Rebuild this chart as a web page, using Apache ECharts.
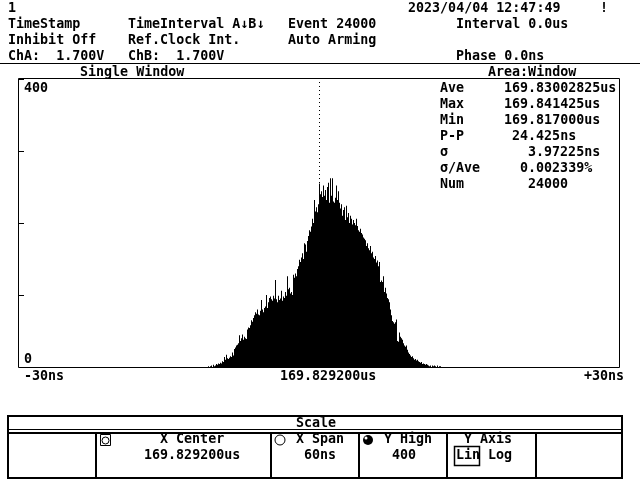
<!DOCTYPE html>
<html>
<head>
<meta charset="utf-8">
<script src="https://cdn.jsdelivr.net/npm/echarts@6/dist/echarts.min.js"></script>
<style>
  html, body { margin: 0; padding: 0; background: #fff; }
  #chart { width: 640px; height: 480px; }
</style>
</head>
<body>
<div id="chart"></div>
<script>
const binCount = 600
const firstBin = 186
const histCounts = [
  0, 0, 0, 1, 0, 1, 2, 0, 3, 1, 2, 4, 3, 5, 4, 6, 5, 8, 7, 14,
  10, 17, 12, 11, 13, 15, 14, 20, 16, 25, 27, 30, 31, 33, 44, 36, 40, 45, 38, 42,
  40, 39, 52, 55, 54, 58, 65, 63, 68, 72, 76, 74, 80, 73, 72, 78, 93, 80, 76, 82,
  84, 100, 82, 90, 96, 98, 94, 92, 99, 95, 121, 94, 90, 99, 93, 95, 106, 92, 98, 96,
  104, 99, 126, 108, 110, 102, 104, 100, 128, 124, 130, 126, 136, 140, 149, 146, 152, 158, 150, 172,
  170, 160, 175, 182, 190, 188, 195, 206, 200, 232, 216, 222, 215, 226, 255, 240, 244, 236, 252, 238,
  246, 232, 250, 256, 228, 262, 238, 262, 230, 228, 235, 252, 232, 244, 228, 220, 226, 210, 218, 222,
  204, 224, 208, 214, 200, 210, 206, 198, 204, 200, 197, 206, 196, 190, 188, 192, 186, 184, 180, 178,
  176, 168, 172, 165, 162, 168, 158, 160, 152, 150, 154, 145, 148, 140, 146, 118, 120, 118, 126, 104,
  110, 102, 96, 94, 90, 80, 72, 64, 62, 60, 62, 66, 36, 35, 48, 42, 40, 38, 33, 30,
  28, 30, 24, 20, 18, 16, 14, 15, 12, 10, 11, 9, 10, 8, 7, 6, 7, 4, 5, 4,
  3, 4, 3, 2, 1, 2, 0, 2, 1, 2, 1, 0, 2, 0, 1, 1
]
const centerBin = 300
const yMax = 400
const yTickLabels = ['400', '0']
const xTickLabels = ['-30ns', '169.829200us', '+30ns']

const headerLines = [
  ['1', '2023/04/04 12:47:49', '!'],
  ['TimeStamp', 'TimeInterval A↓B↓', 'Event 24000', 'Interval 0.0us'],
  ['Inhibit Off', 'Ref.Clock Int.', 'Auto Arming'],
  ['ChA:  1.700V', 'ChB:  1.700V', 'Phase 0.0ns']
]
const statNames = ['Ave', 'Max', 'Min', 'P-P', 'σ', 'σ/Ave', 'Num']
const statValues = ['169.83002825us', '169.841425us', '169.817000us', '24.425ns', '3.97225ns', '0.002339%', '24000']
const scaleLabels = ['X Center', 'X Span', 'Y High', 'Y Axis']
const scaleValues = ['169.829200us', '60ns', '400', 'Lin', 'Log']

const FONT = 'bold 13.33px "DejaVu Sans Mono"'
const CW = 8

// text rows are placed by character column; +2 lines the glyphs up with the screen font
function txt(s, col, y) {
  return { type: 'text', x: col * CW, y: y + 2, style: { text: s, font: FONT, fill: '#000', verticalAlign: 'middle' } }
}
function hline(x1, x2, y, w) {
  return { type: 'line', shape: { x1: x1, y1: y, x2: x2, y2: y }, style: { stroke: '#000', lineWidth: w || 1 } }
}
function vline(x, y1, y2, w) {
  return { type: 'line', shape: { x1: x, y1: y1, x2: x, y2: y2 }, style: { stroke: '#000', lineWidth: w || 1 } }
}

const categories = []
const counts = []
for (let i = 0; i < binCount; i++) {
  categories.push(i)
  const k = i - firstBin
  counts.push(k >= 0 && k < histCounts.length ? histCounts[k] : 0)
}

const g = []
g.push(txt(headerLines[0][0], 1, 7), txt(headerLines[0][1], 51, 7), txt(headerLines[0][2], 75, 7))
g.push(txt(headerLines[1][0], 1, 23), txt(headerLines[1][1], 16, 23), txt(headerLines[1][2], 36, 23), txt(headerLines[1][3], 57, 23))
g.push(txt(headerLines[2][0], 1, 39), txt(headerLines[2][1], 16, 39), txt(headerLines[2][2], 36, 39))
g.push(txt(headerLines[3][0], 1, 55), txt(headerLines[3][1], 16, 55), txt(headerLines[3][2], 57, 55))
g.push(hline(0, 640, 63.5))
g.push(txt('Single Window', 10, 71), txt('Area:Window', 61, 71))

// plot frame
g.push({ type: 'rect', shape: { x: 18.5, y: 78.5, width: 601, height: 289 }, style: { fill: 'none', stroke: '#000', lineWidth: 1 }, z: 10 })

const valueCols = [63, 63, 63, 64, 66, 65, 66]
statNames.forEach((n, i) => {
  g.push(txt(n, 55, 87 + i * 16), txt(statValues[i], valueCols[i], 87 + i * 16))
})
g.push(txt(yTickLabels[0], 3, 87), txt(yTickLabels[1], 3, 358))
g.push(txt(xTickLabels[0], 3, 375), txt(xTickLabels[1], 35, 375), txt(xTickLabels[2], 73, 375))

// scale panel
g.push({ type: 'rect', shape: { x: 8, y: 416, width: 614, height: 62 }, style: { fill: 'none', stroke: '#000', lineWidth: 2 } })
g.push(txt('Scale', 37, 422))
g.push(hline(8, 622, 429.5, 1), hline(8, 622, 433, 2))
;[96, 271, 359, 447, 536].forEach(x => g.push(vline(x, 433, 478, 2)))
g.push(txt(scaleLabels[0], 20, 438), txt(scaleValues[0], 18, 454))
g.push(txt(scaleLabels[1], 37, 438), txt(scaleValues[1], 38, 454))
g.push(txt(scaleLabels[2], 48, 438), txt(scaleValues[2], 49, 454))
g.push(txt(scaleLabels[3], 58, 438), txt(scaleValues[3], 57, 454), txt(scaleValues[4], 61, 454))
g.push({ type: 'rect', shape: { x: 454.5, y: 446.5, width: 25, height: 19 }, style: { fill: 'none', stroke: '#000', lineWidth: 1.5 } })
g.push({ type: 'rect', shape: { x: 100.5, y: 434.5, width: 10, height: 11 }, style: { fill: 'none', stroke: '#000', lineWidth: 1 } })
g.push({ type: 'circle', shape: { cx: 105.5, cy: 440.5, r: 3.5 }, style: { fill: 'none', stroke: '#000', lineWidth: 1 } })
g.push({ type: 'circle', shape: { cx: 280, cy: 440, r: 5 }, style: { fill: 'none', stroke: '#000', lineWidth: 1 } })
g.push({ type: 'circle', shape: { cx: 368, cy: 440, r: 5 }, style: { fill: '#000' } })
g.push({ type: 'circle', shape: { cx: 366, cy: 438, r: 1.5 }, style: { fill: '#fff' } })

const chart = echarts.init(document.getElementById('chart'), null, { renderer: 'canvas' })
chart.setOption({
  animation: false,
  backgroundColor: '#fff',
  grid: { left: 19, top: 79, width: 600, height: 288, show: false },
  xAxis: {
    type: 'category',
    data: categories,
    boundaryGap: true,
    axisLine: { show: false },
    axisTick: { show: false },
    axisLabel: { show: false },
    splitLine: { show: false }
  },
  yAxis: {
    type: 'value',
    min: 0,
    max: yMax,
    interval: 100,
    axisLine: { show: false },
    axisTick: { show: true, inside: true, length: 5, lineStyle: { color: '#000', width: 1 } },
    axisLabel: { show: false },
    splitLine: { show: false }
  },
  series: [{
    type: 'bar',
    data: counts,
    barWidth: 1,
    barCategoryGap: '0%',
    itemStyle: { color: '#000' },
    silent: true,
    markLine: {
      silent: true,
      symbol: 'none',
      label: { show: false },
      lineStyle: { color: '#000', type: [1, 3], width: 1 },
      data: [{ xAxis: centerBin }]
    },
    z: 3
  }],
  graphic: g
})
</script>
</body>
</html>
